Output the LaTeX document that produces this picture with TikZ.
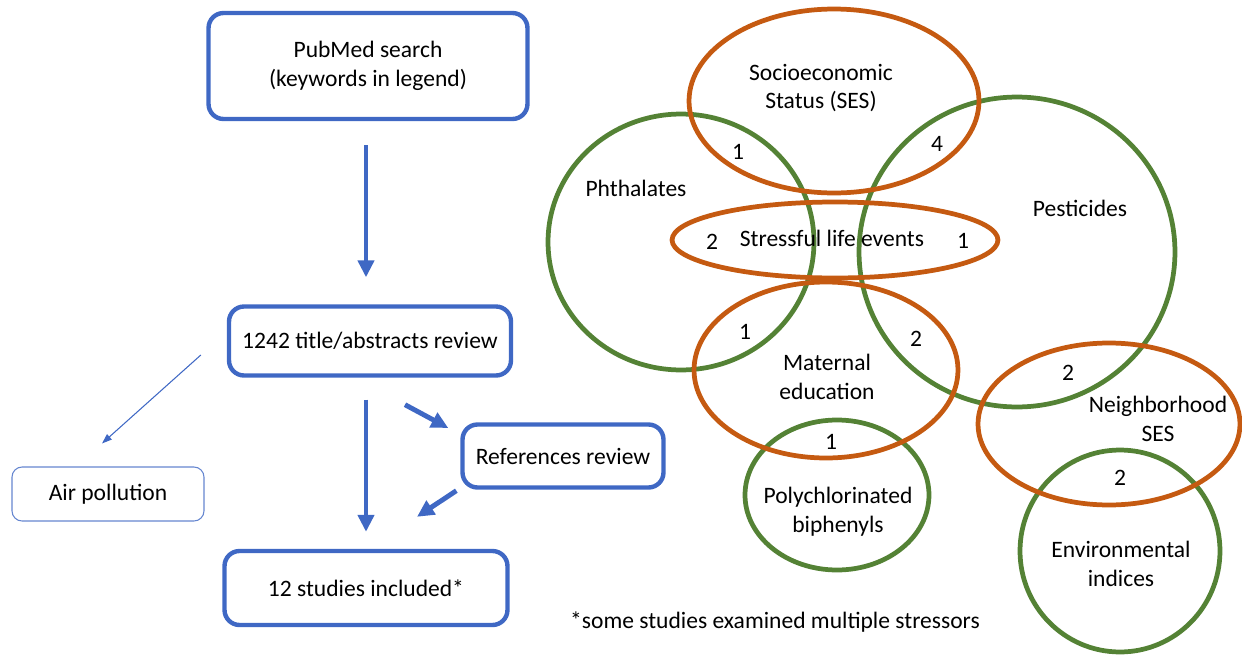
\documentclass[tikz,border=0pt]{standalone}
\usepackage{fontspec}
\setmainfont{Carlito}
\usetikzlibrary{shapes.geometric, arrows.meta, positioning, calc}
\definecolor{flowblue}{HTML}{3F68C4}
\definecolor{expogreen}{HTML}{548235}
\definecolor{stressorange}{HTML}{C55A11}
\tikzset{
  flowbox/.style={rectangle,rounded corners=.3cm,draw=flowblue,line width=2.5pt,align=center,font=\fontsize{13.4}{16.4}\selectfont},
  thinbox/.style={rectangle,rounded corners=.2cm,draw=flowblue!80,line width=.6pt,align=center,font=\fontsize{13.4}{16.4}\selectfont},
  flow/.style={draw=flowblue,line width=2.8pt,-{Triangle[length=.34cm,width=.32cm]}},
  thinflow/.style={draw=flowblue,line width=.6pt,-{Triangle[length=.2cm,width=.14cm]}},
  stressor/.style={ellipse,draw=stressorange,line width=2.7pt,inner sep=0pt},
  exposure/.style={ellipse,draw=expogreen,line width=2.7pt,inner sep=0pt},
  tag/.style={align=center,font=\fontsize{13.4}{16.4}\selectfont},
  count/.style={font=\fontsize{13.4}{15}\selectfont},
}

\begin{document}
\begin{tikzpicture}[x=0.02cm,y=-0.02cm]
	\useasboundingbox (0,0) rectangle (1242,656);
	% flow chart
	\node[flowbox,minimum width=6.38cm,minimum height=2.12cm] (pubmed) at (368,66) {PubMed search\\(keywords in legend)};
	\node[flowbox,minimum width=5.64cm,minimum height=1.38cm] (title) at (370,341) {1242 title/abstracts review};
	\node[thinbox,minimum width=3.84cm,minimum height=1.08cm] (air) at (108,494) {Air pollution};
	\node[flowbox,minimum width=4.02cm,minimum height=1.26cm] (refs) at (563,456) {References review};
	\node[flowbox,minimum width=5.66cm,minimum height=1.48cm] (studies) at (366,588) {12 studies included*};
	\draw[flow,shorten <=.48cm,shorten >=.54cm] (pubmed.south -| studies.north) -- (studies.north |- title.north);
	\draw[flow,shorten <=.44cm,shorten >=.34cm] (studies.north |- title.south) -- (studies.north);
	\draw[flow] ($(title.south)+(35,27)$) -- ($(refs.west)+(-12,-28)$);
	\draw[flow] ($(refs.south west)+(-4,1)$) -- ($(studies.north)+(51,-32)$);
	\draw[thinflow] ($(title.west)+(-26,14)$) -- ($(air.north)+(-6,-23)$);
	% stressors and exposures
	\node[exposure,minimum width=5.32cm,minimum height=5.12cm] (phth) at (681,242) {};
	\node[exposure,minimum width=6.32cm,minimum height=6.2cm] (pest) at (1017,252) {};
	\node[exposure,minimum width=3.68cm,minimum height=3.0cm] (pcb) at (837,495) {};
	\node[exposure,minimum width=4.0cm,minimum height=4.04cm] (env) at (1120,551) {};
	\node[stressor,minimum width=5.8cm,minimum height=3.68cm] (ses) at (834,101) {};
	\node[stressor,minimum width=6.52cm,minimum height=1.52cm] (stress) at (835,240) {};
	\node[stressor,minimum width=5.28cm,minimum height=3.52cm] (matern) at (826,370) {};
	\node[stressor,minimum width=5.24cm,minimum height=3.24cm] (nbhd) at (1109,424) {};
	\node[tag] (sesl) at (821,88) {Socioeconomic\\Status (SES)};
	\node[tag] (phthl) at (636,188) {Phthalates};
	\node[tag] (pestl) at (1080,208) {Pesticides};
	\node[tag] (stressl) at (832,238) {Stressful life events};
	\node[tag] (maternl) at (827,377) {Maternal\\education};
	\node[tag] (pcbl) at (838,512) {Polychlorinated\\biphenyls};
	\node[tag] (nbhdl) at (1158,419) {Neighborhood\\SES};
	\node[tag] (envl) at (1121,564) {Environmental\\indices};
	% overlap counts
	\node[count] (n1) at (738,152) {1};
	\node[count] (n2) at (937,144) {4};
	\node[count] (n3) at (712,242) {2};
	\node[count] (n4) at (963,241) {1};
	\node[count] (n5) at (745,332) {1};
	\node[count] (n6) at (916,339) {2};
	\node[count] (n7) at (831,442) {1};
	\node[count] (n8) at (1068,373) {2};
	\node[count] (n9) at (1120,478) {2};
	\node[tag] (note) at (775,622) {*some studies examined multiple stressors};
\end{tikzpicture}
\end{document}
